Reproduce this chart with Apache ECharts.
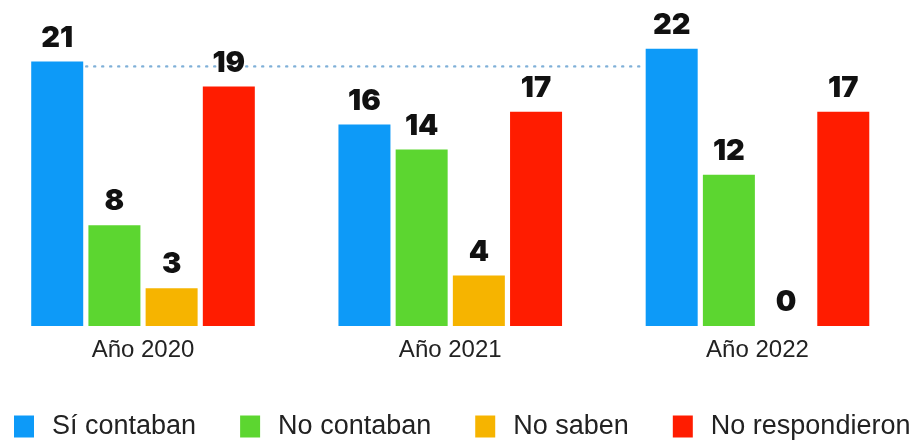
<!DOCTYPE html>
<html>
<head>
<meta charset="utf-8">
<script src="https://cdn.jsdelivr.net/npm/echarts@6/dist/echarts.min.js"></script>
<style>
  html, body { margin: 0; padding: 0; background: #ffffff; }
  #chart { width: 914px; height: 443px; }
</style>
</head>
<body>
<div id="chart"></div>
<script>
// Years shown on the category axis
const years = ['Año 2020', 'Año 2021', 'Año 2022'];

// Answers per year
const siContaban = [21, 16, 22];
const noContaban = [8, 14, 12];
const noSaben = [3, 4, 0];
const noRespondieron = [19, 17, 17];

const seriesNames = ['Sí contaban', 'No contaban', 'No saben', 'No respondieron'];
const seriesValues = [siContaban, noContaban, noSaben, noRespondieron];
const seriesColors = ['#0D9AF8', '#5CD630', '#F6B400', '#FF1C00'];

const chart = echarts.init(document.getElementById('chart'), null, { renderer: 'canvas' });

const valueLabel = {
  show: true,
  position: 'top',
  distance: 9,
  color: '#111111',
  fontFamily: 'Inter',
  fontWeight: 900,
  fontSize: 29
};

chart.setOption({
  animation: false,
  backgroundColor: '#ffffff',
  grid: {
    left: -10.6,
    right: 2.9,
    top: 11,
    bottom: 117,
    containLabel: false,
    outerBoundsMode: 'none'
  },
  legend: {
    left: 14,
    top: 413,
    width: 900,
    padding: 0,
    itemWidth: 20,
    itemHeight: 22,
    itemGap: 44,
    icon: 'rect',
    selectedMode: false,
    textStyle: {
      fontFamily: 'Liberation Sans',
      fontSize: 27,
      color: '#222222',
      padding: [0, 0, 0, 13]
    },
    data: seriesNames
  },
  xAxis: {
    type: 'category',
    data: years,
    axisLine: { show: false },
    axisTick: { show: false },
    axisLabel: {
      margin: 12,
      fontFamily: 'Liberation Sans',
      fontSize: 24,
      color: '#222222'
    }
  },
  yAxis: {
    type: 'value',
    min: 0,
    max: 25,
    show: false,
    splitLine: { show: false }
  },
  series: seriesNames.map((name, i) => ({
    name: name,
    type: 'bar',
    data: seriesValues[i],
    barWidth: 52,
    barGap: '10%',
    itemStyle: { color: seriesColors[i] },
    label: valueLabel
  }))
});

// Dotted reference line running from the 2020 "Sí contaban" bar to the 2022 one
const siData = chart.getModel().getSeriesByIndex(0).getData();
const first = siData.getItemLayout(0);
const last = siData.getItemLayout(2);
const firstTop = Math.min(first.y, first.y + first.height);
const startX = Math.max(first.x, first.x + first.width) + 3;
const endX = Math.min(last.x, last.x + last.width) - 5;
const lineY = firstTop + 5;

chart.setOption({
  graphic: [{
    type: 'line',
    z: 0,
    shape: { x1: startX, y1: lineY, x2: endX, y2: lineY },
    style: {
      stroke: '#7FB0D8',
      lineWidth: 2.4,
      lineDash: [1, 7],
      lineCap: 'round'
    }
  }]
});
</script>
</body>
</html>
